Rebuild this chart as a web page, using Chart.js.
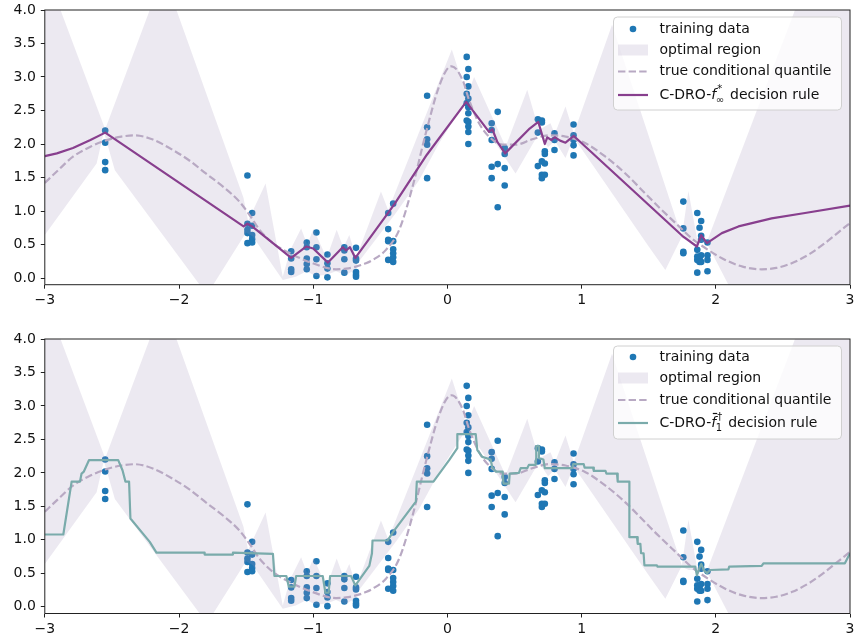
<!DOCTYPE html>
<html lang="en">
<head>
<meta charset="UTF-8" />
<title>C-DRO decision rules vs. optimal region</title>
<script src="https://cdn.jsdelivr.net/npm/chart.js@4.4.0/dist/chart.umd.min.js"></script>
<style>
  body { margin: 0; background: #fff; }
  .panel { position: absolute; left: 0; width: 854px; }
  #top { top: 0; height: 310px; }
  #bottom { top: 328px; height: 314px; }
</style>
</head>
<body>
<div class="panel" id="top"><canvas id="chartTop"></canvas></div>
<div class="panel" id="bottom"><canvas id="chartBottom"></canvas></div>
<script>
// tick labels
const xTicks = [-3, -2, -1, 0, 1, 2, 3];
const yTicks = [0, 0.5, 1, 1.5, 2, 2.5, 3, 3.5, 4];

// training data (same in both panels)
const trainX = [
  -2.55, -2.55, -2.55, -2.55,
  -1.49, -1.49, -1.49, -1.49, -1.49,
  -1.455, -1.455, -1.455, -1.455, -1.455,
  -1.164, -1.164, -1.164, -1.164,
  -1.048, -1.048, -1.048, -1.048, -1.048,
  -0.976, -0.976, -0.976, -0.976,
  -0.894, -0.894, -0.894, -0.894,
  -0.768, -0.768, -0.768, -0.768,
  -0.681, -0.681, -0.681, -0.681, -0.681, -0.681,
  -0.441, -0.441, -0.441, -0.441, -0.441,
  -0.404, -0.404, -0.404, -0.404, -0.404, -0.404,
  -0.151, -0.151, -0.151, -0.151, -0.151,
  0.144, 0.144, 0.144, 0.144, 0.144,
  0.156, 0.156, 0.156, 0.156, 0.156, 0.156, 0.156, 0.156, 0.156,
  0.33, 0.33, 0.33, 0.33, 0.33,
  0.375, 0.375, 0.375,
  0.427, 0.427, 0.427, 0.427,
  0.674, 0.674, 0.674,
  0.704, 0.704, 0.704, 0.704, 0.704,
  0.726, 0.726, 0.726, 0.726,
  0.798, 0.798, 0.798,
  0.94, 0.94, 0.94, 0.94, 0.94,
  1.758, 1.758, 1.758, 1.758,
  1.862, 1.862, 1.862, 1.862, 1.862,
  1.879, 1.879, 1.879,
  1.891, 1.891, 1.891, 1.891, 1.891,
  1.938, 1.938, 1.938, 1.938
];
const trainY = [
  2.20, 2.02, 1.73, 1.61,
  1.53, 0.81, 0.72, 0.67, 0.52,
  0.97, 0.78, 0.64, 0.58, 0.53,
  0.40, 0.29, 0.13, 0.09,
  0.53, 0.46, 0.29, 0.21, 0.13,
  0.68, 0.46, 0.28, 0.03,
  0.35, 0.22, 0.14, 0.01,
  0.46, 0.41, 0.28, 0.08,
  0.45, 0.29, 0.26, 0.09, 0.05, 0.02,
  0.97, 0.73, 0.57, 0.55, 0.27,
  1.11, 0.55, 0.43, 0.37, 0.31, 0.24,
  2.72, 2.25, 2.07, 1.99, 1.49,
  3.30, 3.00, 2.75, 2.61, 2.35,
  3.12, 2.86, 2.68, 2.55, 2.46, 2.33, 2.26, 2.18, 2.00,
  2.31, 2.21, 2.06, 1.66, 1.49,
  2.48, 1.70, 1.055,
  1.94, 1.85, 1.64, 1.38,
  2.37, 2.17, 1.67,
  2.35, 2.32, 1.74, 1.54, 1.49,
  1.89, 1.85, 1.71, 1.54,
  2.16, 2.06, 1.91,
  2.29, 2.13, 2.06, 1.98, 1.83,
  1.14, 0.74, 0.39, 0.37,
  0.97, 0.42, 0.32, 0.27, 0.08,
  0.75, 0.29, 0.24,
  0.85, 0.63, 0.57, 0.34, 0.24,
  0.53, 0.34, 0.27, 0.10
];

// optimal region: upper and lower edges
const upperX = [-3, -2.883, -2.55, -2.218, -2.12, -2.019, -1.52, -1.485, -1.355, -1.227, -1.17, -1.09, -1.045, -0.998, -0.90, -0.825, -0.775, -0.731, -0.68, -0.495, -0.441, 0.033, 0.144, 0.199, 0.434, 0.595, 0.682, 0.768, 0.80, 0.88, 0.942, 1.227, 1.747, 1.796, 1.859, 1.934, 2.59, 2.7, 3];
const upperY = [4.66, 4.0, 2.22, 4.0, 4.5, 4.0, 1.20, 0.85, 1.41, 0.02, 0.42, 0.74, 0.50, 0.73, 0.30, 0.72, 0.45, 0.64, 0.30, 1.29, 1.01, 3.41, 2.71, 3.00, 1.96, 2.81, 2.21, 2.31, 2.15, 2.56, 2.16, 3.78, 0.62, 1.30, 0.60, 0.54, 4.0, 4.6, 4.6];
const lowerX = [-3, -2.614, -2.56, -2.478, -1.846, -1.795, -1.745, -1.50, -1.45, -1.227, -1.13, -1.05, -0.98, -0.90, -0.83, -0.76, -0.69, -0.669, -0.384, -0.211, -0.062, 0.144, 0.508, 0.682, 0.75, 0.80, 0.88, 0.94, 1.5, 1.624, 1.743, 1.80, 1.859, 1.934, 2.094, 2.3, 3];
const lowerY = [0.64, 1.71, 2.18, 1.61, -0.1, -0.3, -0.1, 0.68, 0.62, -0.03, 0.02, 0.10, 0.03, 0.05, 0.10, 0.04, 0.12, 0.22, 0.97, 1.46, 2.01, 2.66, 1.56, 2.16, 1.95, 2.05, 1.79, 2.10, 0.47, 0.12, 0.60, 0.55, 0.55, 0.52, -0.1, -0.8, -0.8];

// true conditional quantile (dashed)
const quantX = [-3, -2.9, -2.79, -2.66, -2.55, -2.43, -2.33, -2.2, -2.045, -1.92, -1.8, -1.67, -1.55, -1.474, -1.4, -1.3, -1.164, -1.004, -0.83, -0.755, -0.681, -0.607, -0.557, -0.458, -0.359, -0.26, -0.161, -0.062, 0.013, 0.033, 0.112, 0.161, 0.236, 0.31, 0.41, 0.508, 0.632, 0.756, 0.88, 1.029, 1.178, 1.326, 1.475, 1.574, 1.7, 1.822, 1.95, 2.07, 2.2, 2.342, 2.45, 2.565, 2.7, 2.813, 2.9, 3];
const quantY = [1.42, 1.61, 1.81, 1.96, 2.05, 2.11, 2.13, 2.07, 1.91, 1.75, 1.56, 1.36, 1.14, 0.94, 0.72, 0.52, 0.36, 0.22, 0.13, 0.14, 0.17, 0.22, 0.27, 0.42, 0.72, 1.36, 2.16, 2.86, 3.15, 3.16, 2.96, 2.66, 2.31, 2.11, 1.99, 1.99, 2.07, 2.13, 2.11, 2.01, 1.81, 1.56, 1.26, 1.06, 0.82, 0.59, 0.41, 0.27, 0.17, 0.13, 0.15, 0.22, 0.36, 0.52, 0.66, 0.82];

// C-DRO-f*_inf decision rule (top)
const fInfX = [-3, -2.91, -2.79, -2.66, -2.55, -1.519, -1.49, -1.455, -1.164, -1.053, -1.0, -0.89, -0.78, -0.755, -0.726, -0.686, -0.439, -0.396, -0.153, 0.14, 0.31, 0.335, 0.372, 0.43, 0.613, 0.677, 0.726, 0.744, 0.775, 0.80, 0.84, 0.88, 0.942, 1.75, 1.859, 1.891, 1.934, 2.045, 2.169, 2.416, 2.665, 3.0];
const fInfY = [1.82, 1.86, 1.94, 2.06, 2.17, 0.77, 0.81, 0.77, 0.30, 0.47, 0.44, 0.23, 0.46, 0.41, 0.46, 0.30, 0.98, 1.10, 1.84, 2.63, 2.18, 2.22, 2.03, 1.86, 2.23, 2.33, 2.0, 2.10, 2.06, 2.10, 2.05, 2.02, 2.12, 0.63, 0.47, 0.64, 0.52, 0.67, 0.77, 0.89, 0.97, 1.08];

// C-DRO-fbar†_1 decision rule (bottom, step shaped)
const f1X = [-3, -2.862, -2.80, -2.738, -2.726, -2.709, -2.671, -2.453, -2.421, -2.399, -2.372, -2.362, -2.218, -2.168, -1.809, -1.809, -1.598, -1.598, -1.30, -1.289, -1.20, -1.182, -1.14, -1.127, -0.929, -0.909, -0.885, -0.874, -0.718, -0.686, -0.582, -0.562, -0.558, -0.446, -0.404, -0.235, -0.228, -0.104, 0.013, 0.074, 0.074, 0.211, 0.223, 0.26, 0.322, 0.335, 0.36, 0.412, 0.417, 0.459, 0.464, 0.533, 0.546, 0.595, 0.607, 0.657, 0.662, 0.662, 0.682, 0.682, 0.715, 0.726, 0.929, 0.937, 1.016, 1.022, 1.085, 1.091, 1.178, 1.185, 1.264, 1.269, 1.356, 1.356, 1.413, 1.418, 1.438, 1.443, 1.462, 1.468, 1.561, 1.566, 1.847, 1.859, 1.884, 1.892, 1.909, 1.934, 1.958, 2.094, 2.1, 2.342, 2.355, 2.962, 3.0];
const f1Y = [1.08, 1.08, 1.87, 1.87, 1.99, 2.02, 2.19, 2.19, 2.04, 1.87, 1.87, 1.32, 0.97, 0.81, 0.81, 0.78, 0.78, 0.81, 0.79, 0.46, 0.46, 0.30, 0.30, 0.46, 0.46, 0.21, 0.21, 0.46, 0.46, 0.32, 0.61, 0.80, 0.99, 0.99, 1.12, 1.57, 1.87, 1.87, 2.19, 2.37, 2.58, 2.58, 2.34, 2.24, 2.20, 2.08, 2.02, 2.02, 1.84, 1.84, 1.99, 2.0, 2.07, 2.07, 2.12, 2.12, 2.23, 2.40, 2.40, 2.22, 2.20, 2.07, 2.07, 2.13, 2.13, 2.08, 2.08, 2.03, 2.03, 1.99, 1.99, 1.87, 1.87, 1.04, 1.04, 0.94, 0.94, 0.80, 0.80, 0.62, 0.62, 0.60, 0.60, 0.47, 0.61, 0.64, 0.55, 0.50, 0.55, 0.56, 0.60, 0.61, 0.65, 0.65, 0.80];

const blue = '#1f77b4';
const bandColor = 'rgba(160, 145, 185, 0.2)';
const quantColor = '#b8a9c3';
const purple = '#883f8e';
const teal = '#7aabab';

Chart.defaults.font.family = '"DejaVu Sans", sans-serif';
Chart.defaults.font.size = 14;
Chart.defaults.color = '#111';

function pts(xs, ys) {
  return xs.map((x, i) => ({ x: x, y: ys[i] }));
}
// closed outline of the optimal region: upper edge left->right, lower edge back
function bandShape() {
  const up = pts(upperX, upperY);
  const low = pts(lowerX, lowerY).reverse();
  return up.concat(low);
}

// box around the plot like matplotlib spines
const framePlugin = {
  id: 'frame',
  afterDatasetsDraw(chart) {
    const { ctx, chartArea: a } = chart;
    ctx.save();
    ctx.strokeStyle = '#222';
    ctx.lineWidth = 1;
    ctx.strokeRect(a.left, a.top, a.right - a.left, a.bottom - a.top);
    ctx.restore();
  }
};

function drawParts(ctx, parts, x, y) {
  ctx.textBaseline = 'middle';
  ctx.textAlign = 'left';
  ctx.fillStyle = '#111';
  ctx.strokeStyle = '#111';
  for (const p of parts) {
    ctx.font = (p.it ? 'italic ' : '') + '14px "DejaVu Sans"';
    ctx.fillText(p.t, x, y);
    const w = ctx.measureText(p.t).width;
    if (p.bar) {
      ctx.lineWidth = 1.2;
      ctx.beginPath();
      ctx.moveTo(x + 1.5, y - 9.5);
      ctx.lineTo(x + w + 1, y - 9.5);
      ctx.stroke();
    }
    if (p.sup || p.sub) {
      ctx.font = '10px "DejaVu Sans"';
      const sx = x + w + 1;
      let sw = 0;
      if (p.sup) {
        ctx.fillText(p.sup, sx, y - 6);
        sw = Math.max(sw, ctx.measureText(p.sup).width);
      }
      if (p.sub) {
        ctx.fillText(p.sub, sx - 1.5, y + 5);
        sw = Math.max(sw, ctx.measureText(p.sub).width - 1.5);
      }
      x = sx + sw + 1.5;
    } else {
      x += w;
    }
  }
}

// legend with the math labels
const mathLegend = {
  id: 'mathLegend',
  afterDatasetsDraw(chart, args, opts) {
    const { ctx, chartArea: a } = chart;
    const w = 228, h = 93;
    const left = a.right - 8.5 - w;
    const top = a.top + 7;
    ctx.save();
    ctx.beginPath();
    ctx.roundRect(left, top, w, h, 4);
    ctx.fillStyle = 'rgba(255,255,255,0.8)';
    ctx.fill();
    ctx.strokeStyle = '#d0d0d0';
    ctx.lineWidth = 1;
    ctx.stroke();
    opts.entries.forEach((e, i) => {
      const y = top + opts.rows[i];
      const hx = left + 4.5;
      if (e.kind === 'dot') {
        ctx.fillStyle = e.color;
        ctx.beginPath();
        ctx.arc(hx + 15, y, 3.3, 0, Math.PI * 2);
        ctx.fill();
      } else if (e.kind === 'patch') {
        ctx.fillStyle = e.color;
        ctx.fillRect(hx, y - 5.5, 30, 11);
      } else {
        ctx.strokeStyle = e.color;
        ctx.lineWidth = 2.2;
        ctx.setLineDash(e.kind === 'dash' ? [7.4, 3.2] : []);
        ctx.beginPath();
        ctx.moveTo(hx, y);
        ctx.lineTo(hx + 30, y);
        ctx.stroke();
        ctx.setLineDash([]);
      }
      drawParts(ctx, e.label, left + 46, y);
    });
    ctx.restore();
  }
};

function makeChart(id, rule, ruleColor, ruleLabel, padTop, xAxisHeight, rows) {
  const ctx = document.getElementById(id).getContext('2d');
  return new Chart(ctx, {
    type: 'line',
    data: {
      datasets: [
        {
          label: 'training data',
          data: pts(trainX, trainY),
          showLine: false,
          pointRadius: 3.3,
          pointBorderWidth: 0,
          pointBackgroundColor: blue,
          pointBorderColor: blue,
          order: 4
        },
        {
          label: 'optimal region',
          data: bandShape(),
          fill: 'shape',
          backgroundColor: bandColor,
          borderColor: 'rgba(0,0,0,0)',
          borderWidth: 0,
          pointRadius: 0,
          tension: 0,
          order: 3
        },
        {
          label: 'true conditional quantile',
          data: pts(quantX, quantY),
          borderColor: quantColor,
          borderWidth: 2.2,
          borderDash: [7.4, 3.2],
          pointRadius: 0,
          fill: false,
          cubicInterpolationMode: 'monotone',
          order: 2
        },
        {
          label: 'decision rule',
          data: rule,
          borderColor: ruleColor,
          borderWidth: 2.2,
          borderJoinStyle: 'round',
          pointRadius: 0,
          fill: false,
          tension: 0,
          order: 1
        }
      ]
    },
    options: {
      responsive: true,
      maintainAspectRatio: false,
      animation: false,
      events: [],
      layout: { padding: { top: padTop, right: 2.2, left: 0, bottom: 0 } },
      plugins: {
        legend: { display: false },
        tooltip: { enabled: false },
        mathLegend: {
          rows: rows,
          entries: [
            { kind: 'dot', color: blue, label: [{ t: 'training data' }] },
            { kind: 'patch', color: bandColor, label: [{ t: 'optimal region' }] },
            { kind: 'dash', color: quantColor, label: [{ t: 'true conditional quantile' }] },
            { kind: 'line', color: ruleColor, label: ruleLabel }
          ]
        }
      },
      scales: {
        x: {
          type: 'linear',
          min: -3,
          max: 3,
          afterBuildTicks: s => { s.ticks = xTicks.map(v => ({ value: v })); },
          afterFit: s => { s.height = xAxisHeight; s.paddingLeft = 0; s.paddingRight = 0; },
          ticks: {
            padding: 3,
            maxRotation: 0,
            callback: v => (v < 0 ? '\u2212' + Math.abs(v) : String(v))
          },
          grid: { drawOnChartArea: false, drawTicks: true, tickLength: 4, tickColor: '#222' },
          border: { display: false }
        },
        y: {
          type: 'linear',
          min: -0.1,
          max: 4.0,
          afterBuildTicks: s => { s.ticks = yTicks.map(v => ({ value: v })); },
          afterFit: s => { s.width = 44.8; s.paddingTop = 0; s.paddingBottom = 0; },
          ticks: { padding: 5, callback: v => v.toFixed(1) },
          grid: { drawOnChartArea: false, drawTicks: true, tickLength: 4, tickColor: '#222' },
          border: { display: false }
        }
      }
    },
    plugins: [framePlugin, mathLegend]
  });
}

makeChart('chartTop', pts(fInfX, fInfY), purple,
  [{ t: 'C-DRO-' }, { t: 'f', it: true, sup: '*', sub: '\u221e' }, { t: ' decision rule' }],
  10, 25.3, [12, 33, 54.5, 78]);

makeChart('chartBottom', pts(f1X, f1Y), teal,
  [{ t: 'C-DRO-' }, { t: 'f', it: true, bar: true, sup: '\u2020', sub: '1' }, { t: ' decision rule' }],
  11, 28.5, [11, 32, 54, 77]);
</script>
</body>
</html>
